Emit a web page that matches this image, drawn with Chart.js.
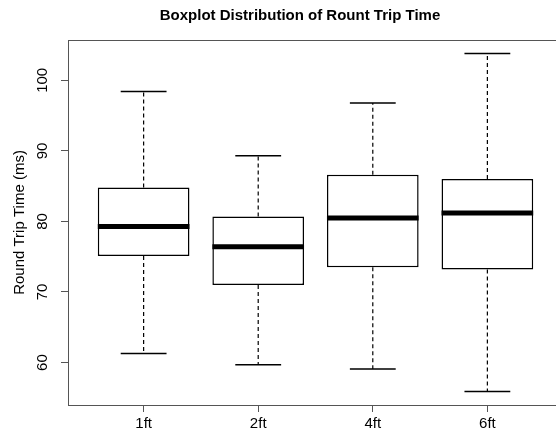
<!DOCTYPE html>
<html>
<head>
<meta charset="utf-8">
<script src="https://cdn.jsdelivr.net/npm/chart.js@4"></script>
<style>
  html, body { margin: 0; padding: 0; background: #fff; overflow: hidden; }
  #wrap { width: 563px; height: 432px; }
</style>
</head>
<body>
<div id="wrap"><canvas id="boxChart" width="563" height="432"></canvas></div>
<script>
// box plot values
const categories  = ["1ft", "2ft", "4ft", "6ft"];
const whiskerLow  = [61.3, 59.7, 59.1, 55.9];
const q1          = [75.1, 71.0, 73.5, 73.2];
const median      = [79.3, 76.4, 80.5, 81.2];
const q3          = [84.8, 80.7, 86.6, 86.0];
const whiskerHigh = [98.4, 89.3, 96.8, 103.8];
const yTicks      = [60, 70, 80, 90, 100];

const FONT = "'Liberation Sans', Arial, Helvetica, sans-serif";

// R style range: data range stretched 4% each side
const lo = Math.min(...whiskerLow), hi = Math.max(...whiskerHigh);
const yPad = (hi - lo) * 0.04;

// build segment lists (null point = gap)
function segments(list) {
    const out = [];
    list.forEach(s => {
        out.push({x: s[0], y: s[1]}, {x: s[2], y: s[3]}, {x: s[2], y: null});
    });
    return out;
}
const pos = categories.map((c, i) => i + 1);
const whiskerSegs = segments(pos.flatMap((x, i) => [
    [x, q3[i], x, whiskerHigh[i]],
    [x, q1[i], x, whiskerLow[i]]
]));
const capSegs = segments(pos.flatMap((x, i) => [
    [x - 0.2, whiskerHigh[i], x + 0.2, whiskerHigh[i]],
    [x - 0.2, whiskerLow[i], x + 0.2, whiskerLow[i]]
]));
const medianSegs = segments(pos.map((x, i) => [x - 0.4, median[i], x + 0.4, median[i]]));

// title, top frame line, rotated y tick labels
const extras = {
    id: "extras",
    afterDraw(chart) {
        const {ctx, chartArea} = chart;
        const y = chart.scales.y;
        ctx.save();
        ctx.strokeStyle = "#555";
        ctx.lineWidth = 1;
        ctx.beginPath();
        ctx.moveTo(chartArea.left, chartArea.top + 0.5);
        ctx.lineTo(chartArea.right, chartArea.top + 0.5);
        ctx.stroke();

        ctx.fillStyle = "#000";
        ctx.font = "bold 15px " + FONT;
        ctx.textAlign = "center";
        ctx.textBaseline = "alphabetic";
        ctx.fillText("Boxplot Distribution of Rount Trip Time", 300, 19.5);

        ctx.font = "15px " + FONT;
        y.ticks.forEach(t => {
            ctx.save();
            ctx.translate(47, y.getPixelForValue(t.value));
            ctx.rotate(-Math.PI / 2);
            ctx.fillText(String(t.value), 0, 0);
            ctx.restore();
        });
        ctx.restore();
    }
};

new Chart(document.getElementById("boxChart"), {
    type: "bar",
    data: {
        datasets: [
            {
                type: "line",
                data: medianSegs,
                borderColor: "#000",
                borderWidth: 5,
                borderCapStyle: "butt",
                pointRadius: 0,
                spanGaps: false,
                order: 0
            },
            {
                type: "bar",
                data: pos.map((x, i) => ({x: x, y: [q1[i], q3[i]]})),
                backgroundColor: "#fff",
                borderColor: "#000",
                borderWidth: 1.5,
                borderSkipped: false,
                barPercentage: 0.8,
                categoryPercentage: 1,
                order: 1
            },
            {
                type: "line",
                data: whiskerSegs,
                borderColor: "#000",
                borderWidth: 1.2,
                borderDash: [4, 3],
                pointRadius: 0,
                spanGaps: false,
                order: 2
            },
            {
                type: "line",
                data: capSegs,
                borderColor: "#000",
                borderWidth: 1.5,
                borderCapStyle: "butt",
                pointRadius: 0,
                spanGaps: false,
                order: 2
            }
        ]
    },
    options: {
        responsive: false,
        animation: false,
        layout: { padding: { top: 40, left: 0, right: 0, bottom: 0 } },
        plugins: {
            legend: { display: false },
            tooltip: { enabled: false },
            title: { display: false }
        },
        scales: {
            x: {
                type: "linear",
                min: 0.34,
                max: 4.66,
                offset: false,
                afterBuildTicks: s => { s.ticks = pos.map(v => ({value: v})); },
                afterFit: s => { s.height = 27; },
                ticks: {
                    callback: v => categories[v - 1],
                    color: "#000",
                    font: { family: FONT, size: 15 },
                    padding: 3,
                    maxRotation: 0,
                    autoSkip: false
                },
                grid: { offset: false, drawOnChartArea: false, tickLength: 7, color: "#555" },
                border: { color: "#555", width: 1 }
            },
            y: {
                min: lo - yPad,
                max: hi + yPad,
                afterBuildTicks: s => { s.ticks = yTicks.map(v => ({value: v})); },
                afterFit: s => { s.width = 68; },
                ticks: { display: false },
                grid: { drawOnChartArea: false, tickLength: 7, color: "#555" },
                border: { color: "#555", width: 1 },
                title: {
                    display: true,
                    text: "Round Trip Time (ms)",
                    color: "#000",
                    font: { family: FONT, size: 15 },
                    padding: { top: 11, bottom: 0 }
                }
            }
        }
    },
    plugins: [extras]
});
</script>
</body>
</html>
